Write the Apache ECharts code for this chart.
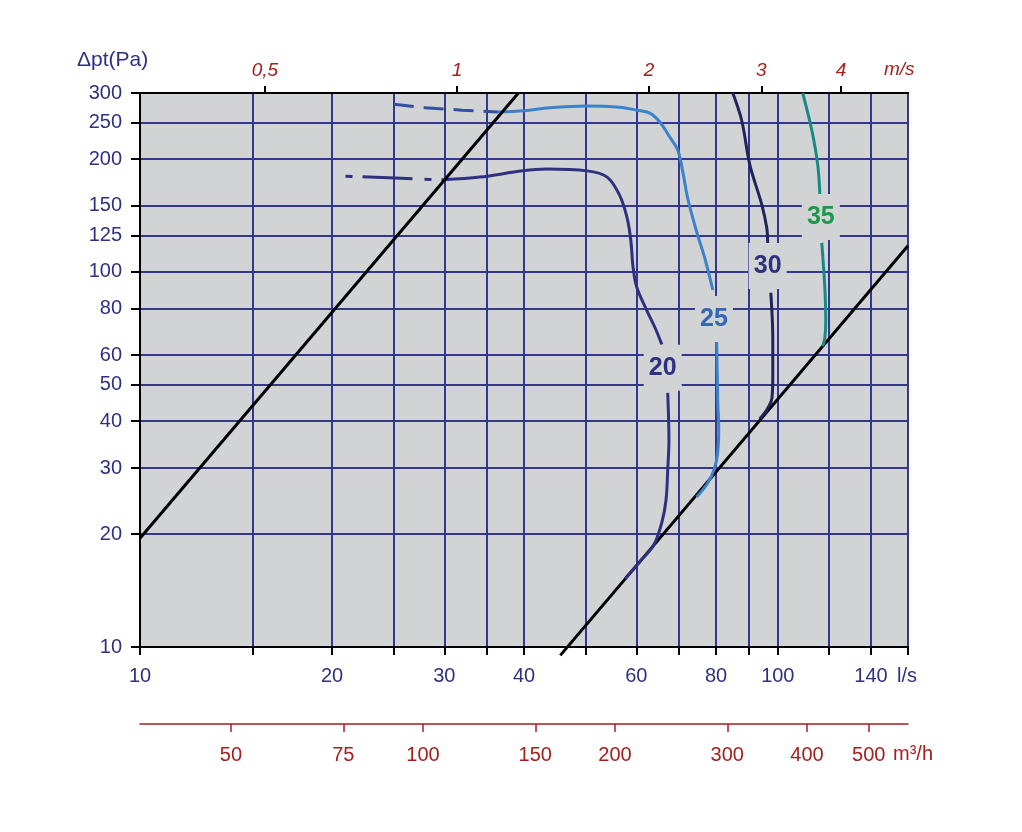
<!DOCTYPE html>
<html><head><meta charset="utf-8">
<script src="https://cdn.jsdelivr.net/npm/echarts@6/dist/echarts.min.js"></script>
<style>html,body{margin:0;padding:0;background:#fff}#c{width:1022px;height:832px}</style>
</head><body><div id="c"></div>
<script>
// Axis ticks
const flowTicks = [10,15,20,25,30,35,40,50,60,70,80,90,100,120,140,160];
const flowLabels = [10,20,30,40,60,80,100,140];
const pressureTicks = [10,20,30,40,50,60,80,100,125,150,200,250,300];
const velocityTicks = [0.5,1,2,3,4];      // m/s
const ductArea = 31.4;                   // l/s per m/s
const m3hTicks = [50,75,100,150,200,300,400,500];

// System lines (Pa vs l/s)
const system1 = [[10,19.5],[39.2,300]];
const system2 = [[45.6,9.5],[160,117.4]];

// Noise curves
const curve20Dashed = [[21.0,180],[25.1,178],[29.9,176]];
const curve20Upper = [[29.9,176],[34.1,179],[39.8,186],[43.4,188],[50.2,186],[54.0,179],[56.5,160],[58.0,140],[58.8,122],[59.3,103],[60.1,91],[62.3,79],[64.2,71],[65.8,64]];
const curve20Lower = [[67.2,47.6],[67.5,35.6],[67.2,29.6],[66.8,24.7],[65.8,21.5],[63.9,18.7],[60.8,16.9],[57.6,15.2]];
const curve25Dashed = [[25,280],[28,274],[32,270],[36.4,267]];
const curve25Upper = [[36.4,267],[40,269],[43.9,274],[50.2,277],[56.5,275],[60.1,270],[63,265],[65.3,251],[67.7,229],[69.7,211],[71,184],[72.3,156],[74.6,128],[76.8,109],[79.1,89.5]];
const curve25Lower = [[80.2,65],[80.5,45.6],[80.8,37.9],[80.5,33.1],[79.6,30],[77.7,27.4],[74.6,25.1]];
const curve30Upper = [[85,300],[87.8,253],[90.4,193],[94.4,151],[96.1,131],[96.4,119.5]];
const curve30Lower = [[97.5,88],[98.2,66.7],[98.2,52.2],[97.9,46.1],[96.1,42.9],[93.7,40.6]];
const curve35Upper = [[109.4,300],[113.1,238],[115.5,193],[116.4,160.5]];
const curve35Lower = [[117.2,119.5],[118.5,90.6],[118.9,74],[118.5,66.7],[117.6,63.4]];
const curveLabels = [[66.0,55.5,'20'],[79.4,74.9,'25'],[96.4,103.7,'30'],[116.8,140.2,'35']];

const NAVY = '#2e3180', BLUE = '#3b82cc', DARK = '#20245a', TEAL = '#178a84', RED = '#a3201d';
const labelColors = {'20': NAVY, '25': '#3466b8', '30': NAVY, '35': '#1b9a4b'};
const PLOT_BG = '#d1d3d4';
const FONT = 'Liberation Sans, Arial, sans-serif';

const chart = echarts.init(document.getElementById('c'), null, {renderer: 'canvas'});

function line(data, color, type, extra) {
  return Object.assign({
    type: 'line', data: data, showSymbol: false, symbol: 'none', smooth: 0.35,
    lineStyle: {color: color, width: 3, type: type || 'solid'}, z: 3, silent: true
  }, extra || {});
}

chart.setOption({
  animation: false,
  grid: {left: 140, top: 93, right: 114, bottom: 185, show: true,
         backgroundColor: PLOT_BG, borderColor: '#000', borderWidth: 2},
  xAxis: [
    {type: 'log', logBase: 10, min: 10, max: 160, position: 'bottom',
     axisLine: {show: true, onZero: false, lineStyle: {color: '#000', width: 2}},
     axisTick: {show: true, customValues: flowTicks, length: 8, lineStyle: {color: '#000', width: 2}},
     axisLabel: {customValues: flowLabels, color: NAVY, fontSize: 20, fontFamily: FONT, margin: 19},
     splitLine: {show: true, lineStyle: {color: '#34378c', width: 2}},
     minorTick: {show: false}},
    {type: 'log', logBase: 10, min: 10, max: 160, position: 'top',
     axisLine: {show: true, lineStyle: {color: '#000', width: 2}},
     axisTick: {show: true, customValues: velocityTicks.map(v => v * ductArea), length: 7, lineStyle: {color: '#000', width: 2}},
     axisLabel: {customValues: velocityTicks.map(v => v * ductArea), color: RED, fontSize: 19, fontStyle: 'italic', fontFamily: FONT, margin: 13,
                 formatter: v => String(+(v / ductArea).toFixed(1)).replace('.', ',')},
     splitLine: {show: false}},
    {type: 'log', logBase: 10, min: 10, max: 160, position: 'bottom', offset: 77,
     axisLine: {show: true, onZero: false, lineStyle: {color: RED, width: 1.5}},
     axisTick: {show: true, customValues: m3hTicks.map(v => v / 3.6), length: 8, lineStyle: {color: RED, width: 1.5}},
     axisLabel: {customValues: m3hTicks.map(v => v / 3.6), color: RED, fontSize: 20, fontFamily: FONT, margin: 21,
                 formatter: v => String(Math.round(v * 3.6))},
     splitLine: {show: false}}
  ],
  yAxis: {type: 'log', logBase: 10, min: 10, max: 300,
    axisLine: {show: true, lineStyle: {color: '#000', width: 2}},
    axisTick: {show: true, customValues: pressureTicks, length: 9, lineStyle: {color: '#000', width: 2}},
    axisLabel: {customValues: pressureTicks, color: NAVY, fontSize: 20, fontFamily: FONT, margin: 18},
    splitLine: {show: true, lineStyle: {color: '#34378c', width: 2}},
    minorTick: {show: false}},
  graphic: [
    {type: 'text', left: 77, top: 50, style: {text: 'Δpt(Pa)', fill: NAVY, font: '21px ' + FONT}},
    {type: 'text', left: 884, top: 60, style: {text: 'm/s', fill: RED, font: 'italic 19px ' + FONT}},
    {type: 'text', left: 897, top: 666, style: {text: 'l/s', fill: NAVY, font: '20px ' + FONT}},
    {type: 'text', left: 893, top: 744, style: {text: 'm³/h', fill: RED, font: '20px ' + FONT}}
  ],
  series: [
    line(system1, '#000', 'solid', {smooth: false, z: 4}),
    line(system2, '#000', 'solid', {smooth: false, z: 4, clip: false}),
    line(curve20Dashed, NAVY, [7, 10, 50, 12], {smooth: false}),
    line(curve20Upper, NAVY),
    line(curve20Lower, NAVY, 'solid', {z: 5}),
    line(curve25Dashed, BLUE, [20, 10], {smooth: false, lineStyle: {color: '#2f4fa0', width: 3, type: [20, 10]}}),
    line(curve25Upper, BLUE),
    line(curve25Lower, BLUE, 'solid', {z: 5}),
    line(curve30Upper, DARK),
    line(curve30Lower, DARK, 'solid', {z: 5}),
    line(curve35Upper, TEAL),
    line(curve35Lower, TEAL, 'solid', {z: 5}),
    {type: 'scatter', symbol: 'rect', symbolSize: [38, 46], z: 6, silent: true,
     itemStyle: {color: PLOT_BG, opacity: 1},
     emphasis: {disabled: true},
     data: curveLabels.map(d => ({value: [d[0], d[1]], name: d[2],
       label: {color: labelColors[d[2]]}})),
     label: {show: true, position: 'inside', formatter: p => p.name, fontSize: 25, fontWeight: 'bold',
             fontFamily: FONT, opacity: 1}}
  ]
});
</script>
</body></html>
